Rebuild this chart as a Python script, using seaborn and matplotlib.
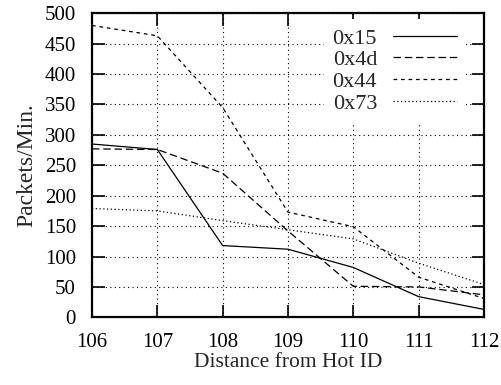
import matplotlib
matplotlib.use("Agg")
import matplotlib.pyplot as plt
import seaborn as sns
import pandas as pd

distance = [106, 107, 108, 109, 110, 111, 112]
s_0x15 = [285, 276, 118, 112, 82, 34, 13]
s_0x4d = [277, 276, 237, 142, 51, 50, 37]
s_0x44 = [480, 463, 345, 173, 149, 66, 31]
s_0x73 = [179, 175, 159, 144, 129, 89, 54]
series_names = ["0x15", "0x4d", "0x44", "0x73"]

rows = []
for name, vals in zip(series_names, [s_0x15, s_0x4d, s_0x44, s_0x73]):
    for d, v in zip(distance, vals):
        rows.append({"Distance": d, "Packets": v, "Series": name})
df = pd.DataFrame(rows)

sns.set_theme(style="ticks")
plt.rcParams["font.family"] = ["Liberation Serif", "DejaVu Serif"]

fig = plt.figure(figsize=(5.01, 3.85), dpi=100)
ax = fig.add_axes([0.1836, 0.1758, 0.966 - 0.1836, 0.9655 - 0.1758])

dashes = {"0x15": "", "0x4d": (6, 3), "0x44": (3, 3), "0x73": (1, 2)}
palette = {n: "black" for n in series_names}
sns.lineplot(data=df, x="Distance", y="Packets", hue="Series", style="Series",
             dashes=dashes, palette=palette, linewidth=0.9, ax=ax, legend=True)

ax.set_xlim(106, 112)
ax.set_ylim(0, 500)
ax.set_xticks(distance)
ax.set_yticks(range(0, 501, 50))
ax.grid(True, color="black", linestyle=(0, (1, 3)), linewidth=0.8)
ax.tick_params(direction="in", length=9, width=1.2, top=True, right=True,
               labelsize=15, colors="black")
ax.tick_params(axis="y", pad=11.5)
ax.tick_params(axis="x", pad=11)
for sp in ax.spines.values():
    sp.set_linewidth(1.6)
    sp.set_color("black")
ax.set_xlabel("Distance from Hot ID", fontsize=15.5, labelpad=1)
ax.set_ylabel("Packets/Min.", fontsize=17, labelpad=5)

handles, labels = ax.get_legend_handles_labels()
leg = ax.legend(handles, labels, loc="upper right", markerfirst=False,
                bbox_to_anchor=(0.954, 0.981),
                handlelength=2.9, fontsize=16, frameon=True, fancybox=False,
                borderaxespad=0.0, labelspacing=0.05, handletextpad=0.7,
                borderpad=0.4)
leg.get_frame().set_facecolor("white")
leg.get_frame().set_edgecolor("none")
leg.get_frame().set_alpha(1)
for line in leg.get_lines():
    line.set_linewidth(0.9)
for t in leg.get_texts():
    t.set_ha("right")
leg._legend_box.align = "right"

fig.savefig("out.png", dpi=100)
